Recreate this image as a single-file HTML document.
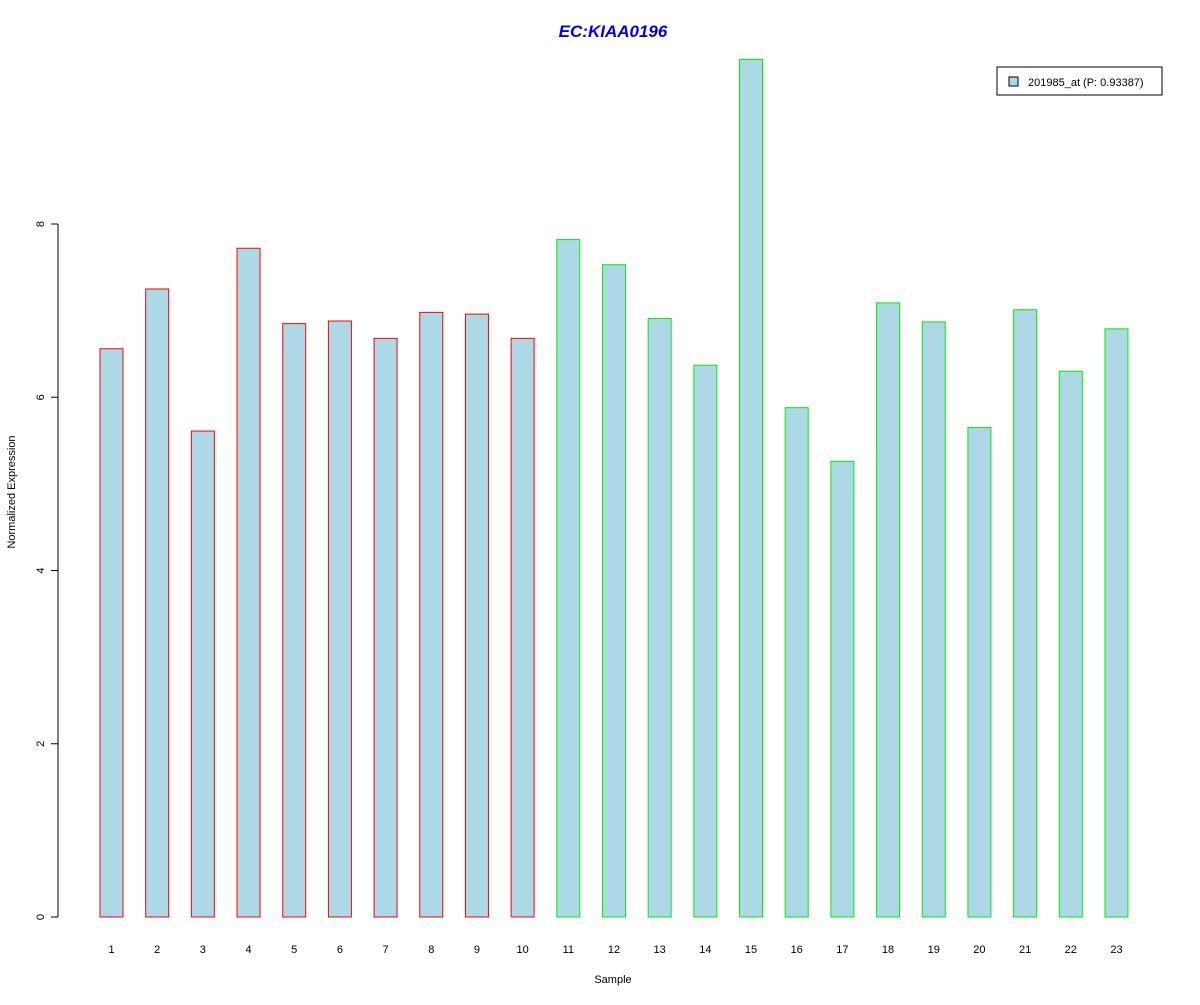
<!DOCTYPE html>
<html><head><meta charset="utf-8"><style>
body{margin:0;background:#fff;}
svg{font-family:"Liberation Sans",Arial,sans-serif;}
</style></head><body>
<svg id="chart" width="1200" height="1000" xmlns="http://www.w3.org/2000/svg">
<rect width="1200" height="1000" fill="#fff"/>
<text x="613" y="37" text-anchor="middle" font-size="17" font-weight="bold" font-style="italic" fill="#0000ee">EC:KIAA0196</text>
<text x="613" y="983" text-anchor="middle" font-size="11">Sample</text>
<text transform="translate(15,492) rotate(-90)" text-anchor="middle" font-size="11">Normalized Expression</text>
<g id="yaxis"></g>
<g id="bars"></g>
<g id="xlabels"></g>
<g>
<rect x="997" y="67" width="165" height="28" fill="#fff" stroke="#000"/>
<rect x="1009" y="77" width="9" height="9" fill="#add8e6" stroke="#000"/>
<text x="1028" y="86" font-size="11">201985_at (P: 0.93387)</text>
</g>
</svg>
<script>
const categories=["1","2","3","4","5","6","7","8","9","10","11","12","13","14","15","16","17","18","19","20","21","22","23"];
const values=[6.56,7.25,5.61,7.72,6.85,6.88,6.68,6.98,6.96,6.68,7.82,7.53,6.91,6.37,9.90,5.88,5.26,7.09,6.87,5.65,7.01,6.30,6.79];
const groups=["a","a","a","a","a","a","a","a","a","a","b","b","b","b","b","b","b","b","b","b","b","b","b"];
const yTicks=[0,2,4,6,8];
const NS="http://www.w3.org/2000/svg";
const y=v=>917-v*86.625;
const x=i=>111.5+i*45.68;
const bw=23;
const ya=document.getElementById('yaxis');
function mk(tag,attrs,parent){const e=document.createElementNS(NS,tag);for(const k in attrs)e.setAttribute(k,attrs[k]);parent.appendChild(e);return e;}
const axl=mk('line',{x1:58,x2:58,y1:y(yTicks[0]),y2:y(yTicks[yTicks.length-1]),stroke:'#000'},ya);


yTicks.forEach(t=>{
 const l=mk('line',{x1:51,x2:58,y1:y(t),y2:y(t),stroke:'#000'},ya);
 
 
 const tx=mk('text',{transform:`translate(44,${y(t)}) rotate(-90)`,'text-anchor':'middle','font-size':11},ya);
 tx.textContent=t;
 
 
});
const bg=document.getElementById('bars'),xl=document.getElementById('xlabels');
values.forEach((v,i)=>{
 const r=mk('rect',{x:x(i)-bw/2,y:y(v),width:bw,height:y(0)-y(v),fill:'#add8e6',stroke:groups[i]==='a'?'#ff0000':'#00ee00'},bg);
 
 
 const t=mk('text',{x:x(i),y:953,'text-anchor':'middle','font-size':11},xl);
 t.textContent=categories[i];
 
 
});
</script>
</body></html>
